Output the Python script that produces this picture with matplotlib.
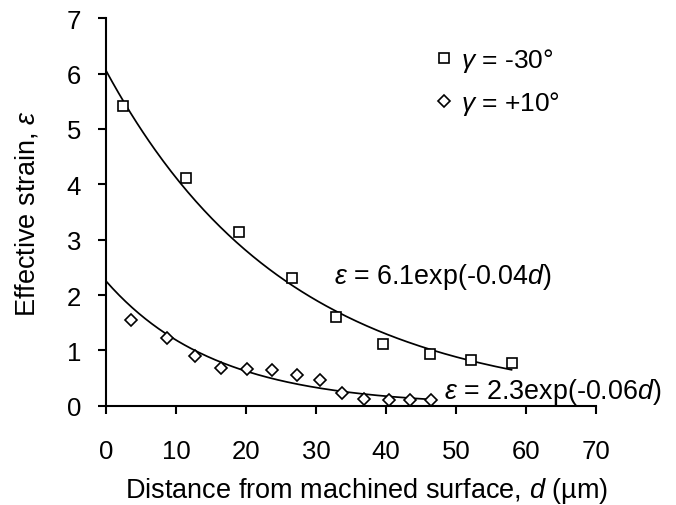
import matplotlib
matplotlib.use("Agg")
import matplotlib.pyplot as plt
import numpy as np

# Kare noktalar (gamma = -30)
d_neg30 = [2.4, 11.4, 19.0, 26.5, 32.9, 39.5, 46.2, 52.1, 57.9]
eps_neg30 = [5.42, 4.11, 3.14, 2.31, 1.60, 1.11, 0.93, 0.82, 0.77]

# Baklava noktalar (gamma = +10)
d_pos10 = [3.5, 8.7, 12.7, 16.4, 20.1, 23.7, 27.2, 30.6, 33.7, 36.8, 40.4, 43.4, 46.4]
eps_pos10 = [1.55, 1.22, 0.90, 0.68, 0.67, 0.64, 0.55, 0.46, 0.24, 0.12, 0.10, 0.11, 0.11]

# Egri katsayilari: eps = a * exp(-k d)
fit_a = [6.05, 2.25]
fit_k = [0.0385, 0.064]

fit_labels = [r"$\varepsilon$ = 6.1exp(-0.04$d$)", r"$\varepsilon$ = 2.3exp(-0.06$d$)"]
legend_labels = [r"$\gamma$ = -30°", r"$\gamma$ = +10°"]

plt.rcParams["font.family"] = ["Liberation Sans", "DejaVu Sans"]
plt.rcParams["mathtext.fontset"] = "custom"
plt.rcParams["mathtext.rm"] = "Liberation Sans"
plt.rcParams["mathtext.it"] = "Liberation Sans:italic"

fig = plt.figure(figsize=(6.76, 5.06), dpi=100)
ax = fig.add_axes([0.157, 0.196, 0.725, 0.766])

ax.plot(d_neg30, eps_neg30, linestyle="none", marker="s", markersize=7.5,
        markerfacecolor="white", markeredgecolor="black", markeredgewidth=1.2,
        label=legend_labels[0])
ax.plot(d_pos10, eps_pos10, linestyle="none", marker="D", markersize=6.5,
        markerfacecolor="white", markeredgecolor="black", markeredgewidth=1.2,
        label=legend_labels[1])

# Trend cizgileri
for xs, a, k in [(d_neg30, fit_a[0], fit_k[0]), (d_pos10, fit_a[1], fit_k[1])]:
    dd = np.linspace(0, max(xs), 200)
    ax.plot(dd, a * np.exp(-k * dd), color="black", linewidth=1.25, zorder=1)

ax.text(32.5, 2.35, fit_labels[0], fontsize=19.4, va="center", ha="left")
ax.text(48.2, 0.27, fit_labels[1], fontsize=19.4, va="center", ha="left")

ax.set_xlim(0, 70)
ax.set_ylim(0, 7)
ax.set_xticks(range(0, 71, 10))
ax.set_yticks(range(0, 8))
ax.spines["top"].set_visible(False)
ax.spines["right"].set_visible(False)
ax.spines["left"].set_linewidth(1.5)
ax.spines["bottom"].set_linewidth(1.5)
ax.tick_params(axis="x", direction="out", length=6, width=1.5, pad=18, labelsize=18.5)
ax.tick_params(axis="y", direction="out", length=6, width=1.5, pad=12, labelsize=18.5)

ax.set_xlabel(r"Distance from machined surface, $d$ (µm)", fontsize=19.5)
ax.set_ylabel(r"Effective strain, $\varepsilon$", fontsize=19.5)
ax.xaxis.set_label_coords(0.531, -0.236)
ax.xaxis.label.set_va("baseline")
ax.yaxis.set_label_coords(-0.161, 0.5)
ax.yaxis.label.set_va("center")

ax.legend(loc="upper left", bbox_to_anchor=(0.619, 0.99), frameon=False,
          fontsize=19, handlelength=0.8, handletextpad=0.26, labelspacing=0.58,
          markerscale=0.9)

fig.savefig("out.png", dpi=100)
